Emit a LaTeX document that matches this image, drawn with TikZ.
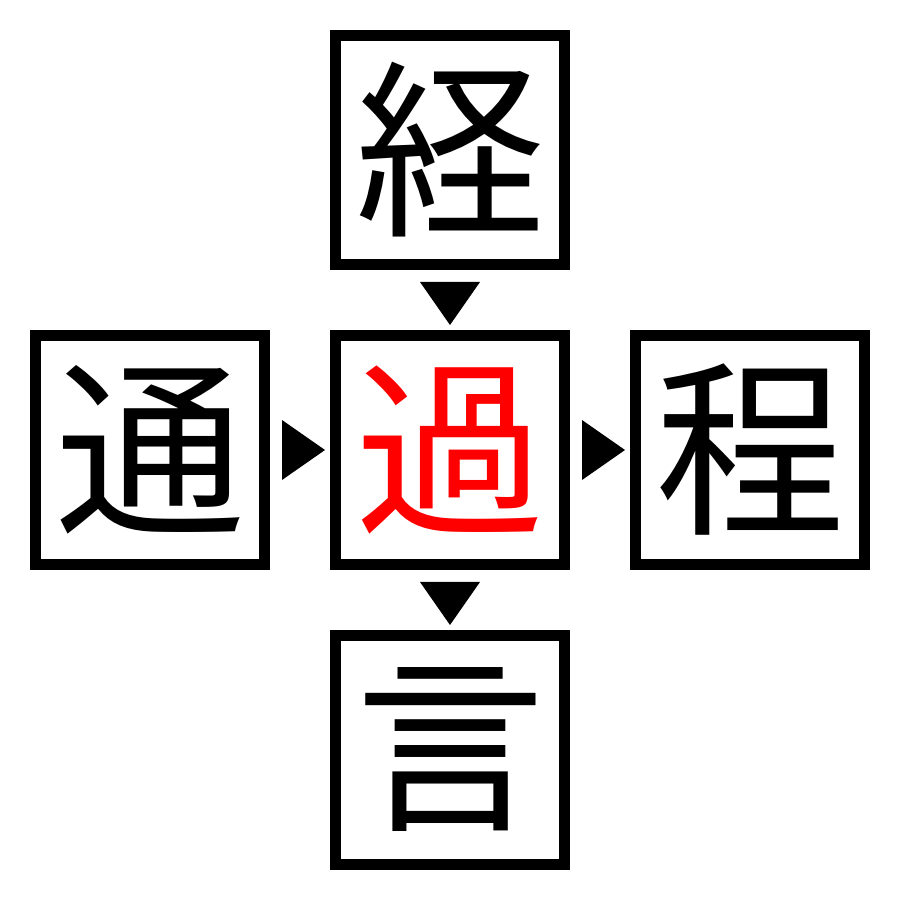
\documentclass[tikz,border=0pt]{standalone}
\usepackage{fontspec}
\newfontfamily\jp{Noto Sans CJK JP}
\usetikzlibrary{calc}

\begin{document}
\begin{tikzpicture}[x = 1cm, y = 1cm,
    box/.style = {draw, line width = 0.11cm, minimum size = 2.29cm, inner sep = 0pt,
        font = \jp\fontsize{54}{54}\selectfont}]
        \useasboundingbox (0,0) rectangle (9,9);
        \node[box] (tsu) at (1.5,4.5) {通};
        \node[box, text = red] (ka) at (4.5,4.5) {過};
        \node[box] (tei) at (7.5,4.5) {程};
        \node[box] (kei) at (4.5,7.5) {経};
        \node[box] (gen) at (4.5,1.5) {言};
        % arrow marks between the boxes
        \fill ($(kei.south)!0.5!(ka.north)$) ++(-0.3,0.18) -- ++(0.6,0) -- ++(-0.3,-0.43) -- cycle;
        \fill ($(ka.south)!0.5!(gen.north)$) ++(-0.3,0.18) -- ++(0.6,0) -- ++(-0.3,-0.43) -- cycle;
        \fill ($(tsu.east)!0.5!(ka.west)$) ++(-0.18,0.3) -- ++(0,-0.6) -- ++(0.43,0.3) -- cycle;
        \fill ($(ka.east)!0.5!(tei.west)$) ++(-0.18,0.3) -- ++(0,-0.6) -- ++(0.43,0.3) -- cycle;
\end{tikzpicture}
\end{document}
